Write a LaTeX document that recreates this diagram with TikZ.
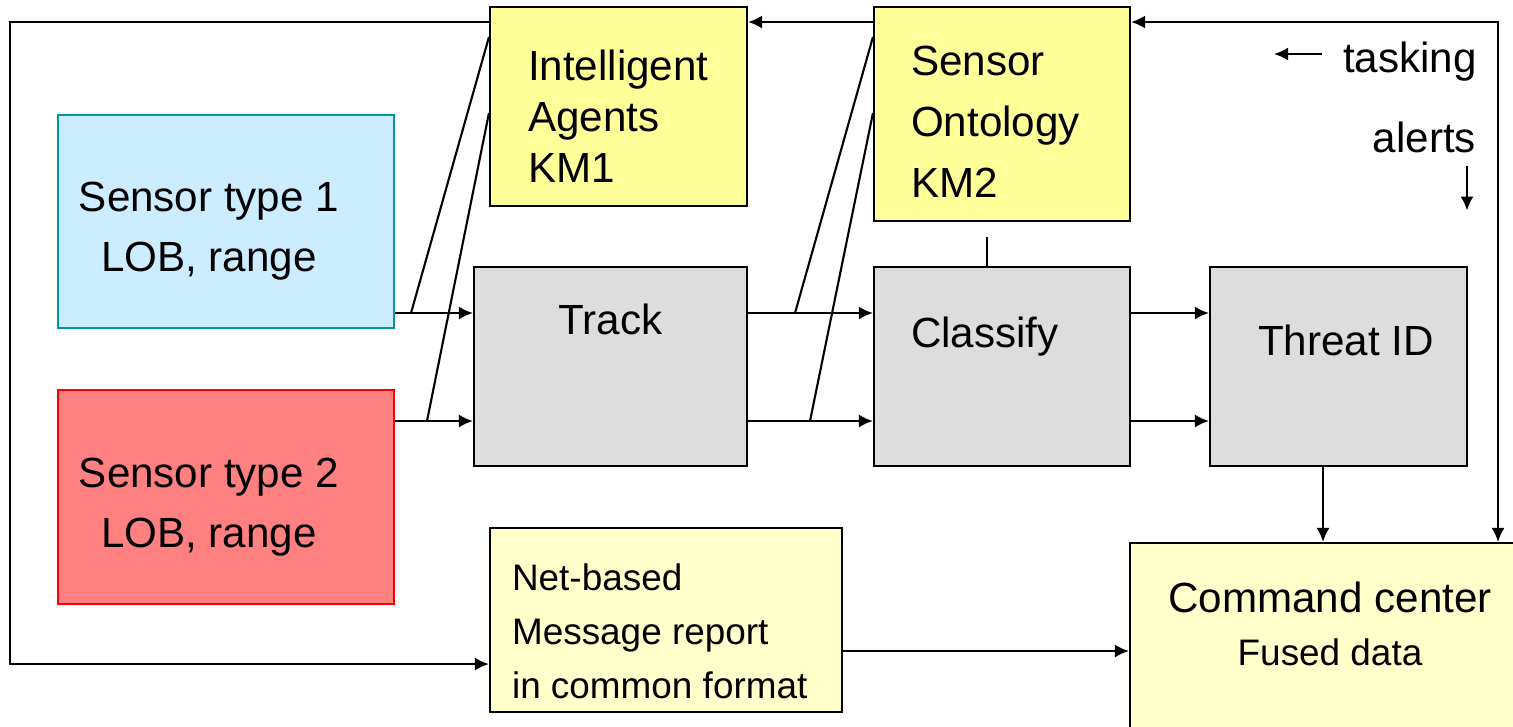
\documentclass[tikz,border=0pt]{standalone}
\usepackage{fontspec}
\setmainfont{Liberation Sans}
\usetikzlibrary{arrows.meta}

\definecolor{skyfill}{RGB}{204,236,255}
\definecolor{tealline}{RGB}{0,153,153}
\definecolor{rosefill}{RGB}{255,128,128}
\definecolor{kmfill}{RGB}{255,255,153}
\definecolor{procfill}{RGB}{221,221,221}
\definecolor{outfill}{RGB}{255,255,204}

\begin{document}
\begin{tikzpicture}[>={Latex[length=1.4mm,width=1.3mm]}, line width=0.6pt,
  box/.style={draw, rectangle, inner sep=0pt},
  txt/.style={inner sep=0pt, font=\fontsize{12}{17}\selectfont},
  smalltxt/.style={inner sep=0pt, font=\fontsize{10.5}{15.4}\selectfont}]
\useasboundingbox (0,0) rectangle (15.13,-7.26);
% boxes
\node[box,fill=skyfill,draw=tealline,minimum width=3.36cm,minimum height=2.13cm] (s1)at(2.26,-2.215){};
\node[box,fill=rosefill,draw=red,minimum width=3.36cm,minimum height=2.14cm] (s2)at(2.26,-4.97){};
\node[box,fill=kmfill,minimum width=2.57cm,minimum height=1.99cm] (km1)at(6.185,-1.065){};
\node[box,fill=kmfill,minimum width=2.56cm,minimum height=2.14cm] (km2)at(10.02,-1.14){};
\node[box,fill=procfill,minimum width=2.73cm,minimum height=1.99cm] (track)at(6.105,-3.665){};
\node[box,fill=procfill,minimum width=2.56cm,minimum height=1.99cm] (classify)at(10.02,-3.665){};
\node[box,fill=procfill,minimum width=2.57cm,minimum height=1.99cm] (threat)at(13.385,-3.665){};
\node[box,fill=outfill,minimum width=3.52cm,minimum height=1.84cm] (net)at(6.66,-6.2){};
\node[box,fill=outfill,minimum width=4.0cm,minimum height=2.02cm] (cmd)at(13.30,-6.44){};
% texts
\node[txt,align=center] (s1txt)at(2.09,-2.31){Sensor type 1\\LOB, range};
\node[txt,align=center] (s2txt)at(2.09,-5.07){Sensor type 2\\LOB, range};
\node[txt,align=left,anchor=west,font=\fontsize{12}{14.5}\selectfont] (km1txt)at(5.27,-1.16){Intelligent\\Agents\\KM1};
\node[txt,align=left,anchor=west,font=\fontsize{12}{17.4}\selectfont] (km2txt)at(9.10,-1.215){Sensor\\Ontology\\KM2};
\node[txt] (tracktxt)at(6.105,-3.19){Track};
\node[txt,anchor=west] (classifytxt)at(9.10,-3.37){Classify};
\node[txt] (threattxt)at(13.46,-3.40){Threat ID};
\node[smalltxt,align=left,anchor=west] (nettxt)at(5.11,-6.31){Net-based\\Message report\\in common format};
\node[txt] (cmdtxt)at(13.30,-5.97){Command center};
\node[smalltxt] (fusedtxt)at(13.30,-6.52){Fused data};
\node[txt,anchor=west] (tasking)at(13.42,-0.62){tasking};
\node[txt,anchor=east] (alerts)at(14.77,-1.37){alerts};
% flows
\draw[->] (s1.east |- 0,-3.13) -- (track.west |- 0,-3.13);
\draw[->] (s2.east |- 0,-4.21) -- (track.west |- 0,-4.21);
\draw[->] (track.east |- 0,-3.13) -- (classify.west |- 0,-3.13);
\draw[->] (track.east |- 0,-4.21) -- (classify.west |- 0,-4.21);
\draw[->] (classify.east |- 0,-3.13) -- (threat.west |- 0,-3.13);
\draw[->] (classify.east |- 0,-4.21) -- (threat.west |- 0,-4.21);
\draw[->] (threat.south -| 13.23,0) -- (cmd.north -| 13.23,0);
\draw[->] (net.east |- 0,-6.51) -- (cmd.west |- 0,-6.51);
% knowledge taps
\draw (4.11,-3.13) -- (km1.west |- 0,-0.37);
\draw (4.27,-4.21) -- (km1.west |- 0,-1.13);
\draw (7.95,-3.13) -- (km2.west |- 0,-0.37);
\draw (8.10,-4.21) -- (km2.west |- 0,-1.13);
\draw (classify.north -| 9.87,0) -- (9.87,-2.37);
% feedback
\draw[->] (km2.west |- 0,-0.22) -- (km1.east |- 0,-0.22);
\draw[->] (km1.west |- 0,-0.22) -| (0.10,-6.64) -- (net.west |- 0,-6.64);
\draw[<->] (km2.east |- 0,-0.22) -| (cmd.north -| 14.98,0);
\draw[->] ([xshift=-0.2cm,yshift=0.08cm]tasking.west) -- ++(-0.48,0);
\draw[->] ([xshift=-0.1cm,yshift=-0.12cm]alerts.south east) -- ++(0,-0.45);
\end{tikzpicture}
\end{document}
